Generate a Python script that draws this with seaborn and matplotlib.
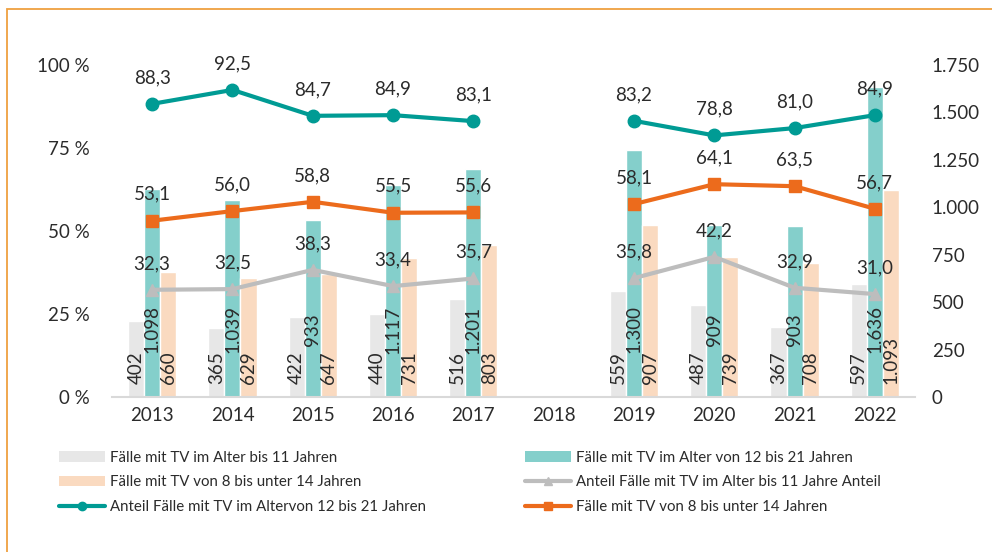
import numpy as np
import pandas as pd
import matplotlib
matplotlib.use("Agg")
import matplotlib.pyplot as plt
from matplotlib.patches import Rectangle, Patch
from matplotlib.lines import Line2D
import seaborn as sns

# ---------------- data ----------------
years = ["2013", "2014", "2015", "2016", "2017", "2018", "2019", "2020", "2021", "2022"]

# absolute counts (right axis), 2018 missing
faelle_bis11 = [402, 365, 422, 440, 516, np.nan, 559, 487, 367, 597]
faelle_12_21 = [1098, 1039, 933, 1117, 1201, np.nan, 1300, 909, 903, 1636]
faelle_8_14 = [660, 629, 647, 731, 803, np.nan, 907, 739, 708, 1093]

# shares in percent (left axis)
anteil_bis11 = [32.3, 32.5, 38.3, 33.4, 35.7, np.nan, 35.8, 42.2, 32.9, 31.0]
anteil_12_21 = [88.3, 92.5, 84.7, 84.9, 83.1, np.nan, 83.2, 78.8, 81.0, 84.9]
anteil_8_14 = [53.1, 56.0, 58.8, 55.5, 55.6, np.nan, 58.1, 64.1, 63.5, 56.7]

bar_names = ["Fälle mit TV im Alter bis 11 Jahren",
             "Fälle mit TV im Alter von 12 bis 21 Jahren",
             "Fälle mit TV von 8 bis unter 14 Jahren"]
line_names = ["Anteil Fälle mit TV im Alter bis 11 Jahre Anteil",
              "Anteil Fälle mit TV im Altervon 12 bis 21 Jahren",
              "Fälle mit TV von 8 bis unter 14 Jahren"]

left_ticks = [0, 25, 50, 75, 100]
right_ticks = [0, 250, 500, 750, 1000, 1250, 1500, 1750]

# ---------------- style ----------------
GREY_BAR = "#E7E7E7"
TEAL_BAR = "#84CFCB"
PEACH_BAR = "#FADAC0"
GREY_LINE = "#BDBDBD"
TEAL_LINE = "#009B94"
ORANGE = "#EC6B1C"
TXT = "#2B2B2B"
FS = 13.5

sns.set_theme(style="white")
plt.rcParams["font.family"] = ["Lato", "DejaVu Sans"]


def de_int(v):
    return f"{int(v):,}".replace(",", ".")


def de_dec(v):
    return f"{v:.1f}".replace(".", ",")


# long table for seaborn
rows = []
for name, vals in zip(bar_names, [faelle_bis11, faelle_12_21, faelle_8_14]):
    for y, v in zip(years, vals):
        if not np.isnan(v):
            rows.append({"Jahr": y, "Serie": name, "Wert": v})
df = pd.DataFrame(rows)

fig = plt.figure(figsize=(9.92, 5.52), dpi=100)
ax = fig.add_axes([0.1129, 0.2808, 0.8095, 0.6014])

sns.barplot(data=df, x="Jahr", y="Wert", hue="Serie", order=years,
            hue_order=bar_names,
            palette=dict(zip(bar_names, [GREY_BAR, TEAL_BAR, PEACH_BAR])),
            width=0.6, saturation=1, errorbar=None, legend=False, ax=ax)

ax.set_ylim(0, 1750)
ax.set_yticks(right_ticks)
ax.set_yticklabels([de_int(t) for t in right_ticks])
ax.set_xlabel("")
ax.set_ylabel("")
for s in ["top", "left", "right"]:
    ax.spines[s].set_visible(False)
ax.spines["bottom"].set_color("#D9D9D9")
ax.spines["bottom"].set_linewidth(1.5)

# bar labels: grey/peach at the base, teal at fixed height
for k, cont in enumerate(ax.containers):
    for p in cont.patches:
        h = p.get_height()
        if np.isnan(h) or h == 0:
            continue
        xc = p.get_x() + p.get_width() / 2
        if k == 1:
            ax.text(xc, 356, de_int(h), rotation=90, ha="center", va="center",
                    fontsize=FS, color=TXT)
        else:
            ax.text(xc, 66, de_int(h), rotation=90, ha="center", va="bottom",
                    fontsize=FS, color=TXT)

# lines on twin axis (drawn above bars)
ax2 = ax.twinx()
ax.yaxis.tick_right()
ax.tick_params(axis="y", length=0, pad=12, labelsize=FS, labelcolor=TXT)
ax.tick_params(axis="x", length=0, pad=7, labelsize=FS, labelcolor=TXT)

xs = np.arange(len(years))
ax2.plot(xs, anteil_bis11, color=GREY_LINE, lw=3, marker="^", ms=9)
ax2.plot(xs, anteil_12_21, color=TEAL_LINE, lw=3, marker="o", ms=9)
ax2.plot(xs, anteil_8_14, color=ORANGE, lw=3, marker="s", ms=8.5)

for vals in [anteil_bis11, anteil_12_21, anteil_8_14]:
    for x, v in zip(xs, vals):
        if np.isnan(v):
            continue
        ax2.annotate(de_dec(v), (x, v), xytext=(0, 19), textcoords="offset points",
                     ha="center", va="center", fontsize=FS, color=TXT,
                     annotation_clip=False)

ax2.set_ylim(0, 100)
ax2.set_yticks(left_ticks)
ax2.set_yticklabels([f"{t} %" for t in left_ticks])
ax2.yaxis.tick_left()
ax2.tick_params(axis="y", length=0, pad=16, labelsize=FS, labelcolor=TXT)
for s in ["top", "left", "right", "bottom"]:
    ax2.spines[s].set_visible(False)

# categorical range: one slot per year
ax.set_xlim(-0.5, len(years) - 0.5)

# legend in two fixed columns
col1 = [Patch(facecolor=GREY_BAR, edgecolor="none"),
        Patch(facecolor=PEACH_BAR, edgecolor="none"),
        Line2D([], [], color=TEAL_LINE, lw=3, marker="o", ms=6)]
col1_labels = [bar_names[0], bar_names[2], line_names[1]]
col2 = [Patch(facecolor=TEAL_BAR, edgecolor="none"),
        Line2D([], [], color=GREY_LINE, lw=3, marker="^", ms=6),
        Line2D([], [], color=ORANGE, lw=3, marker="s", ms=6)]
col2_labels = [bar_names[1], line_names[0], line_names[2]]

leg_kw = dict(loc="upper left", frameon=False, fontsize=10.8, handlelength=3.1,
              handleheight=0.7, handletextpad=0.3, labelspacing=0.7,
              borderaxespad=0, borderpad=0, labelcolor=TXT)
fig.legend(col1, col1_labels, bbox_to_anchor=(0.059, 0.183), **leg_kw)
fig.legend(col2, col2_labels, bbox_to_anchor=(0.529, 0.183), **leg_kw)

# orange frame round the chart
fig.add_artist(Rectangle((7 / 992, -0.1), 1.2, 543 / 552 + 0.1,
                         transform=fig.transFigure, fill=False,
                         edgecolor="#EFA040", lw=1.3, clip_on=False))

fig.savefig("out.png", dpi=100)
